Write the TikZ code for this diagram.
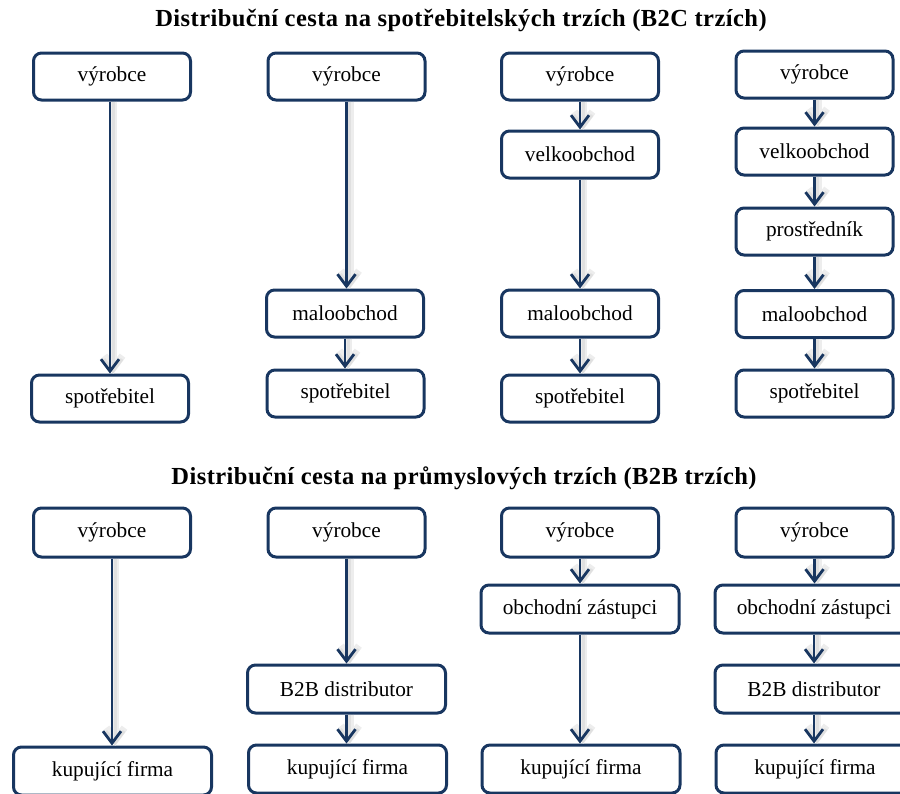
\documentclass[tikz,border=0pt]{standalone}
\usepackage{fontspec}
\setmainfont{Liberation Serif}
\newfontfamily\headfont[LetterSpace=1.8]{Liberation Serif}
\usetikzlibrary{arrows.meta}
\definecolor{navy}{RGB}{24,54,96}
\tikzset{
  stage/.style={draw=navy, line width=3pt, rounded corners=8pt, fill=white,
    minimum height=47pt, inner sep=0pt, text=black,
    font=\fontsize{21.3}{24}\selectfont},
  narrow/.style={stage, minimum width=157pt},
  wide/.style={stage, minimum width=198pt, minimum height=48pt},
  flow/.style={draw=navy, line width=2.8pt,
    -{Straight Barb[length=12pt,width=18pt]},
    preaction={draw=black!7, line width=7pt, transform canvas={xshift=3.5pt},
      -{Straight Barb[length=12pt,width=18pt]}},
    preaction={draw=black!12, line width=3pt, transform canvas={xshift=3pt},
      -{Straight Barb[length=12pt,width=18pt]}}},
  heading/.style={font=\headfont\fontsize{24.5}{27}\selectfont\bfseries, inner sep=0pt}
}
\begin{document}
\begin{tikzpicture}[x=1pt,y=-1pt]
\useasboundingbox (0,0) rectangle (900,793);
\clip (0,0) rectangle (900,793);

% consumer markets
\node[heading] (t1) at (461,21) {Distribuční cesta na spotřebitelských trzích (B2C trzích)};

\node[narrow] (a1) at (112,76.5) {výrobce};
\node[narrow] (a2) at (110,398.5) {spotřebitel};

\node[narrow] (b1) at (346.5,76.5) {výrobce};
\node[narrow] (b2) at (345,313.5) {maloobchod};
\node[narrow] (b3) at (345.5,393.5) {spotřebitel};

\node[narrow] (c1) at (580,76.5) {výrobce};
\node[narrow] (c2) at (580,154.5) {velkoobchod};
\node[narrow] (c3) at (580,313.5) {maloobchod};
\node[narrow] (c4) at (580,398.5) {spotřebitel};

\node[narrow] (d1) at (814.5,74.5) {výrobce};
\node[narrow] (d2) at (814.5,151.5) {velkoobchod};
\node[narrow] (d3) at (814.5,231.5) {prostředník};
\node[narrow] (d4) at (814.5,314) {maloobchod};
\node[narrow] (d5) at (814.5,393.5) {spotřebitel};

\draw[flow] (a1.south -| a2) -- (a2.north);
\draw[flow] (b1.south) -- (b1.south |- b2.north);
\draw[flow] (b2.south) -- (b2.south |- b3.north);
\draw[flow] (c1.south) -- (c2.north);
\draw[flow] (c2.south) -- (c3.north);
\draw[flow] (c3.south) -- (c4.north);
\draw[flow] (d1.south) -- (d2.north);
\draw[flow] (d2.south) -- (d3.north);
\draw[flow] (d3.south) -- (d4.north);
\draw[flow] (d4.south) -- (d5.north);

% industrial markets
\node[heading] (t2) at (464,478) {Distribuční cesta na průmyslových trzích (B2B trzích)};

\node[narrow, minimum height=49pt] (e1) at (112,532.5) {výrobce};
\node[wide] (e2) at (112.5,771) {kupující firma};

\node[narrow, minimum height=49pt] (f1) at (346.5,532.5) {výrobce};
\node[wide] (f2) at (346.5,689) {B2B distributor};
\node[wide] (f3) at (347.5,769) {kupující firma};

\node[narrow, minimum height=49pt] (g1) at (580,532.5) {výrobce};
\node[wide] (g2) at (580,609) {obchodní zástupci};
\node[wide] (g3) at (581,769) {kupující firma};

\node[narrow, minimum height=49pt] (h1) at (814.5,532.5) {výrobce};
\node[wide] (h2) at (814,609) {obchodní zástupci};
\node[wide] (h3) at (814,689) {B2B distributor};
\node[wide] (h4) at (815,769) {kupující firma};

\draw[flow] (e1.south) -- (e1.south |- e2.north);
\draw[flow] (f1.south) -- (f1.south |- f2.north);
\draw[flow] (f2.south) -- (f2.south |- f3.north);
\draw[flow] (g1.south) -- (g1.south |- g2.north);
\draw[flow] (g2.south) -- (g2.south |- g3.north);
\draw[flow] (h1.south) -- (h1.south |- h2.north);
\draw[flow] (h2.south) -- (h2.south |- h3.north);
\draw[flow] (h3.south) -- (h3.south |- h4.north);
\end{tikzpicture}
\end{document}
